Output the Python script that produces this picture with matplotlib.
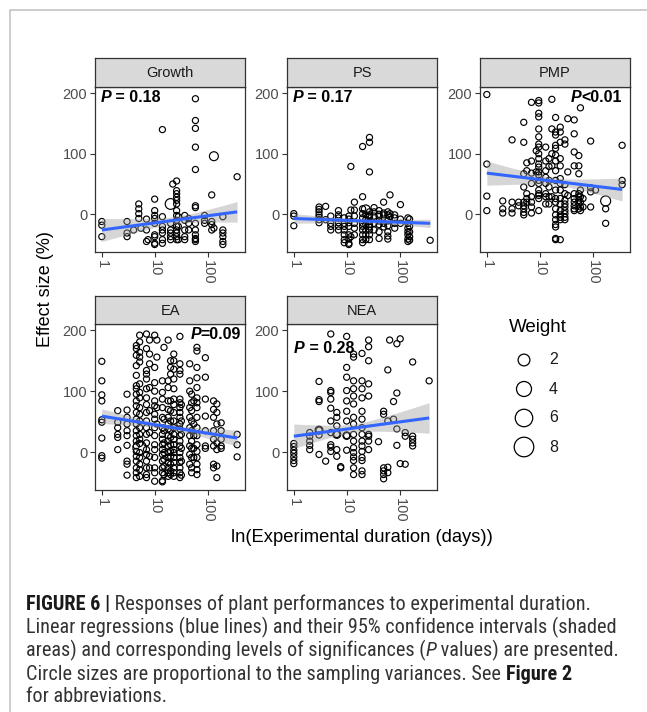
import matplotlib
matplotlib.use('Agg')
import matplotlib.pyplot as plt
import numpy as np
from matplotlib import font_manager as fm
from matplotlib.font_manager import FontProperties
from matplotlib.transforms import offset_copy

plt.rcParams['font.family'] = ['Liberation Sans', 'DejaVu Sans']

# ---------------- data (days, [effect sizes]) ----------------
growth_stacks = [
    (1, [-12, -18, -37]), (3, [-12, -31, -37]), (4, [-26]), (5, [17, 9, 1, -7]),
    (5.5, [-23]), (7, [-8, -26, -45]), (7.5, [-42]),
    (10, [25, 6, -2, -7, -15, -34, -37, -48, -50]),
    (14, [140, -4, -20, -26, -31, -42, -48]), (20, [-15, -26, -31, -37, -42]),
    (22, [50]), (26, [55, 39, 34, 28, 23, 17, 6, -2, -10, -20, -26, -31, -37, -42]),
    (28, [-4, -20, -42]), (37, [-2, -10, -26, -37, -42]), (44, [-7, -15, -26]),
    (59, [191, 155, 142, 111, 74, 14, 11, -15, -26, -34, -40, -42, -45]),
    (88, [-2, -10, -15]), (120, [32, -12, -17, -26]), (132, [-23]),
    (195, [-4, -26, -31, -37, -45, -50]), (363, [62]),
]
growth_large = [(20, 17, 1.5), (132, 96, 0.8)]

ps_stacks = [
    (1, [1, -3, -19]), (3, [12, 8, 4, -1, -5, -9, -14]), (4, [13, -9]),
    (5, [-3, -15, -20, -26]), (7, [6, -1, -6, -14, -20, -26]),
    (9, [-6, -15, -20, -26, -34, -42, -47]), (11, [-3, -8, -14, -20, -34, -41, -48, -50]),
    (12, [79, 7, -37]), (14, [20, 7, -3, -15, -23, -34]),
    (20, [112, 29, 9, 1, -6, -15, -20, -26, -34, -42, -47]),
    (23, [-1, -9, -17, -26, -34, -42]),
    (27, [127, 119, 70, 4, -1, -4, -12, -17, -21, -26, -34, -42]),
    (33, [11, 4, -3, -15, -26]), (41, [6, 0, -3, -11, -17, -29, -40]),
    (50, [20, 2, -1, -15, -21]), (60, [4, -1, -11, -19, -29, -36, -41]),
    (66, [32, 1, -4]), (81, [-1, -6, -15, -23]), (104, [16, -8, -15]),
    (144, [-6, -15, -23, -29, -34, -41, -45]), (155, [-8, -20, -29, -37, -43]),
    (380, [-43]),
]
ps_large = [(23, 8, 0.8)]

pmp_stacks = [
    (1, [198, 83, 30, 6]), (2, [22, 9, 2]), (3, [123, 20, 9, 2]), (4, [20, 14]),
    (5, [152, 119, 67, 45, 20, 14, 9, 3, -1]), (5.7, [85, 72, 34, 26, 20]),
    (7, [185, 88, 68, 51, 29, 20, 12, 2]), (8.6, [105, 70]),
    (9.6, [188, 184, 167, 161, 141, 128, 116, 111, 100, 92, 83, 78, 70, 65, 56, 51, 40, 34, 31, 26, 6]),
    (13, [111, 88, 72, 61, 51, 34, 29, 17]), (15, [92, 79, 56, 45, 29, 17]),
    (17, [190, 141, 100, 80, 29]),
    (20, [160, 136, 131, 114, 109, 98, 88, 72, 56, 40, 26, 20, 9, -1, -9, -17, -21, -40, -42]),
    (24.5, [144, 136, 119, 92, 80, 59, 51, 40, 26, 17, 6, -1, -5, -9, -42]),
    (30, [123, 116, 49, 34, 23, 17, 12, 6, 1, -5, -9]), (34, [158, 70, 31]),
    (45, [156, 133, 103, 80, 34, 26, 20, 14, 9, 6]), (55, [97, 80, 67, 34, 29, 23, 17, 9]),
    (59, [176, 40, 29, 20, 12, 6]), (66, [26, 12]), (92, [121, 44, 37, 12]),
    (114, [40]), (177, [9, -15]), (363, [114, 56, 49]),
]
pmp_large = [(177, 22, 1.2)]

ea_stacks = [
    (1, [149, 117, 94, 84, 53, 49, 23, -6, -10]), (2, [68, 49, 40, 29, 24, 4]),
    (3, [95, 69, 57, 46, 35, 27, 11, -15, -20, -38]),
    (4.5, [175, 170, 159, 142, 126, 109, 104, 95, 84, 76, 65, 54, 46, 35, 27, 18, 10, 1, -7, -15, -26, -34, -42]),
    (5.2, [192, 181, 164, 156, 148, 112, 98, 89, 73, 62, 51, 40, 29, 21, 14, -1, -9, -20, -29, -40]),
    (7, [194, 170, 134, 128, 120, 104, 89, 78, 65, 51, 40, 29, 15, 4, -4, -15, -26, -37, -42]),
    (8, [184, 161, 145, 106, 68, 32, -7, -26]),
    (10, [192, 139, 114, 100, 84, 76, 62, 54, 40, 27, 12, 4, -9, -26, -34, -48]),
    (11, [184, 156, 73, 46]),
    (14, [117, 98, 87, 73, 57, 40, 29, 21, 12, 4, -4, -15, -26, -34, -47, -49]),
    (15, [172, 54, 35, 15, -1, -12, -23, -37]),
    (18, [184, 117, 106, 84, 70, 57, 46, 38, 27, 18, 10, -1, -9, -17, -26, -34, -40]),
    (20, [150, 139, 128, 84, 68, 51, 35, 24, 12, 1, -7, -20, -31, -37]),
    (23, [161, 150, 136, 120, 104, 87, 78, 65, 51, 40, 29, 21, 12, 4, -1, -9, -17, -26, -34, -40]),
    (30, [190, 145, 134, 128, 87, 81, 73, 65, 57, 46, 38, 27, 18, 10, -1, -9, -17, -26, -34, -42]),
    (32, [78, 51, 29, 6, -15, -38]), (46, [145, 117, 100, 73, 57, 40, 27, 10, -4, -20]),
    (50, [95, 81, 68, 51, 35, 18, 6, -9, -26, -34]), (55, [84, 46, 27, 6, -9]),
    (63, [172, 166, 139, 122, 106, 89, 81, 73, 57, 40, 27, 12, 1, -9, -20, -29, -37]),
    (91, [155, 123, 87, 59, 35, 10, 6]), (130, [84, 70, 57, 35, 21, 10, -20, -26]),
    (150, [79, 65, 46, 15, 4, -23, -42]), (181, [48, 35, 21, 10, 6]), (363, [29, 12, -8]),
]
ea_large = [(5.2, 7, 3.0)]

nea_stacks = [
    (1, [14, 9, 3, -2, -8, -14, -19]), (2, [32, 26, 18, 11, 4]),
    (3, [116, 86, 83, 36, 28, -4]), (4, [-15]),
    (5, [194, 101, 98, 87, 72, 51, 32, 12, 8, 1]), (6.5, [65, 57, 43, 29, 4, -7]),
    (7.7, [-24, -26]), (10, [190, 139, 123, 101, 84, 67, 51, 27, 3]),
    (13.5, [161, 156, 117, 104, 92, 79, 57, 46, 29, 18, 7, -1, -8, -14, -26, -37]),
    (19.5, [162, 117, 104, 89, 67, 54, 40, 29, 18, 10, 1, -9, -14, -31, -37]),
    (26, [184, 173, 150, 112, 92, 29, 26, 18, 4]), (40, [17]),
    (50, [67, 62, -26, -31, -37, -44]), (60, [135, 51, -25, -34]), (65, [184]),
    (77, [83, 54]), (89, [178, 97, 38, 11]), (103, [186, -19]),
    (128, [32, 26, -20]), (177, [148, 26, 21, 15, 10]), (363, [117]),
]
nea_large = [(3, 36, 0.5), (6.5, 29, 0.5), (10, 27, 0.4)]

panel_names = ['Growth', 'PS', 'PMP', 'EA', 'NEA']
panel_stacks = [growth_stacks, ps_stacks, pmp_stacks, ea_stacks, nea_stacks]
panel_large = [growth_large, ps_large, pmp_large, ea_large, nea_large]

# fitted line: value at first day, value at last day; CI half-widths (left, min, right)
fit_left = [-26, -7, 68, 59, 26]
fit_right = [4, -15, 41, 23, 56]
ci_left = [19, 8, 20, 12, 20]
ci_min = [6, 3, 6, 4, 7]
ci_right = [17, 7, 19, 13, 25]

p_prefix = ['P', 'P', 'P', 'P', 'P']
p_rest = [' = 0.18', ' = 0.17', '<0.01', '=0.09', ' = 0.28']

legend_weights = [2, 4, 6, 8]
default_weight = 0.15

x_ticks = [1, 10, 100]
x_ticklabels = ['1', '10', '100']
y_ticks = [0, 100, 200]


# ---------------- caption font: a condensed sans if one is installed ----------------
def pick_font(weight, style):
    cond = ('condensed', 'semi-condensed', 'extra-condensed', 'ultra-condensed')
    pref = ['Liberation Sans Narrow', 'Arial Narrow', 'Nimbus Sans Narrow', 'Roboto Condensed',
            'Open Sans Condensed', 'Noto Sans Condensed', 'Noto Sans SemiCondensed',
            'DejaVu Sans Condensed', 'Noto Sans', 'DejaVu Sans', 'Open Sans', 'Roboto']
    want_w = 700 if weight == 'bold' else 400

    def wnum(f):
        w = f.weight
        if isinstance(w, str):
            return 700 if 'bold' in w else 400
        return w

    for fam in pref:
        hits = []
        for f in fm.fontManager.ttflist:
            if f.name != fam:
                continue
            narrow_name = ('Narrow' in fam) or ('Condensed' in fam)
            if not (narrow_name or f.stretch in cond):
                continue
            if narrow_name and f.stretch not in cond + ('normal',):
                continue
            st_ok = (f.style != 'normal') == (style != 'normal')
            if st_ok:
                hits.append((abs(wnum(f) - want_w), f.fname))
        if hits:
            hits.sort()
            return FontProperties(fname=hits[0][1])
    return FontProperties(family='Liberation Sans', weight=weight, style=style)


CAP_FONTS = {(w, s): pick_font(w, s) for w in ('normal', 'bold') for s in ('normal', 'italic')}


def cap_fp(size, weight='normal', style='normal'):
    p = CAP_FONTS[(weight, style)].copy()
    p.set_size(size)
    return p


# ---------------- layout ----------------
W, H = 647, 712
fig = plt.figure(figsize=(W / 100, H / 100), dpi=100)
renderer = fig.canvas.get_renderer()

cols = [(95, 245), (287, 437), (480, 630)]
rows = [(87, 252), (324, 490)]
strips = [(58, 87), (296, 324)]
positions = [(0, 0), (0, 1), (0, 2), (1, 0), (1, 1)]
p_pos = [(0.035, 0.937, 'left'), (0.035, 0.937, 'left'), (0.947, 0.937, 'right'),
         (0.975, 0.934, 'right'), (0.047, 0.855, 'left')]


def rect(x0, x1, y0, y1):
    return [x0 / W, 1 - y1 / H, (x1 - x0) / W, (y1 - y0) / H]


def size_of(w):
    d_px = 4 + 5.5 * np.sqrt(w)
    return (d_px * 0.72) ** 2


def expand(stacks):
    xs, ys = [], []
    for d, vals in stacks:
        for v in vals:
            xs.append(d)
            ys.append(v)
    return np.array(xs, float), np.array(ys, float)


all_x = np.concatenate([expand(s)[0] for s in panel_stacks])
all_y = np.concatenate([expand(s)[1] for s in panel_stacks])
lx0, lx1 = np.log10(all_x.min()), np.log10(all_x.max())
rx = lx1 - lx0
xlim = (10 ** (lx0 - 0.05 * rx), 10 ** (lx1 + 0.05 * rx))
ry = all_y.max() - all_y.min()
ylim = (all_y.min() - 0.05 * ry, all_y.max() + 0.05 * ry)

DARK = '#333333'

for i, name in enumerate(panel_names):
    r, c = positions[i]
    ax = fig.add_axes(rect(cols[c][0], cols[c][1], rows[r][0], rows[r][1]))
    sax = fig.add_axes(rect(cols[c][0], cols[c][1], strips[r][0], strips[r][1]))
    sax.set_facecolor('#D9D9D9')
    sax.set_xticks([]); sax.set_yticks([])
    for sp in sax.spines.values():
        sp.set_color(DARK); sp.set_linewidth(0.9)
    sax.text(0.5, 0.47, name, transform=sax.transAxes, ha='center', va='center',
             fontsize=10.5, color='#1A1A1A')

    xs, ys = expand(panel_stacks[i])
    ax.scatter(xs, ys, s=size_of(default_weight), facecolors='none', edgecolors='black',
               linewidths=0.85, zorder=3)
    if panel_large[i]:
        lg = np.array(panel_large[i], float)
        ax.scatter(lg[:, 0], lg[:, 1], s=size_of(lg[:, 2]), facecolors='none',
                   edgecolors='black', linewidths=0.85, zorder=3)

    # regression line + CI band (in log10 space)
    t0, t1 = np.log10(xs.min()), np.log10(xs.max())
    t = np.linspace(t0, t1, 100)
    slope = (fit_right[i] - fit_left[i]) / (t1 - t0)
    yfit = fit_left[i] + slope * (t - t0)
    A = ci_left[i] ** 2 - ci_min[i] ** 2
    B = ci_right[i] ** 2 - ci_min[i] ** 2
    T = t1 - t0
    sk = (np.sqrt(A) + np.sqrt(B)) / T
    cc = t0 + np.sqrt(A) / sk
    hw = np.sqrt(ci_min[i] ** 2 + sk ** 2 * (t - cc) ** 2)
    ax.fill_between(10 ** t, yfit - hw, yfit + hw, color='#999999', alpha=0.4, lw=0, zorder=4)
    ax.plot(10 ** t, yfit, color='#3366FF', lw=2.2, zorder=5, solid_capstyle='butt')

    ax.set_xscale('log')
    ax.set_xlim(xlim)
    ax.set_ylim(ylim)
    ax.set_xticks(x_ticks)
    ax.set_xticklabels(x_ticklabels, rotation=-90, va='top', ha='center')
    ax.minorticks_off()
    ax.set_yticks(y_ticks)
    ax.tick_params(direction='out', length=3.5, width=0.8, color=DARK,
                   labelcolor='#4D4D4D', labelsize=10.5, pad=2)
    for sp in ax.spines.values():
        sp.set_color(DARK); sp.set_linewidth(0.9)

    # P value text
    px, py, al = p_pos[i]
    kw = dict(fontsize=11.5, weight='bold', va='center', color='black', zorder=6)
    if al == 'left':
        t1_ = ax.text(px, py, p_prefix[i], transform=ax.transAxes, ha='left', style='italic', **kw)
        wpx = t1_.get_window_extent(renderer).width
        ax.text(px, py, p_rest[i], ha='left',
                transform=offset_copy(ax.transAxes, fig=fig, x=wpx, units='dots'), **kw)
    else:
        t2_ = ax.text(px, py, p_rest[i], transform=ax.transAxes, ha='right', **kw)
        wpx = t2_.get_window_extent(renderer).width
        ax.text(px, py, p_prefix[i], ha='right', style='italic',
                transform=offset_copy(ax.transAxes, fig=fig, x=-wpx, units='dots'), **kw)

# ---------------- overlay in pixel coordinates ----------------
ov = fig.add_axes([0, 0, 1, 1], zorder=10)
ov.set_xlim(0, W); ov.set_ylim(H, 0)
ov.axis('off')
ov.patch.set_alpha(0)

ov.plot([10, 10, W + 5], [H + 5, 10, 10], color='#C8C8C8', lw=1.3, solid_capstyle='butt')

ov.text(46, 289, 'Effect size (%)', rotation=90, ha='center', va='center',
        fontsize=13, color='black')
ov.text(362, 537, 'ln(Experimental duration (days))', ha='center', va='center',
        fontsize=13.2, color='black')

ov.text(509, 327, 'Weight', ha='left', va='center', fontsize=13.5, color='black')
leg_y = [360, 389, 418, 447]
for wv, yy in zip(legend_weights, leg_y):
    ov.scatter([524], [yy], s=size_of(wv), facecolors='none', edgecolors='black', linewidths=0.9)
    ov.text(549, yy, str(wv), ha='left', va='center', fontsize=11.5, color='#1A1A1A')

# caption
cap_lines = [
    [('FIGURE 6 |', 'bold', 'normal', '#1A1A1A'),
     (' Responses of plant performances to experimental duration.', 'normal', 'normal', '#333333')],
    [('Linear regressions (blue lines) and their 95% confidence intervals (shaded', 'normal', 'normal', '#333333')],
    [('areas) and corresponding levels of significances (', 'normal', 'normal', '#333333'),
     ('P', 'normal', 'italic', '#333333'),
     (' values) are presented.', 'normal', 'normal', '#333333')],
    [('Circle sizes are proportional to the sampling variances. See ', 'normal', 'normal', '#333333'),
     ('Figure 2', 'bold', 'normal', '#1A1A1A')],
    [('for abbreviations.', 'normal', 'normal', '#333333')],
]
cap_x0, cap_x1 = 26, 612
probe = ov.text(0, 0, cap_lines[1][0][0], fontproperties=cap_fp(10))
pw = probe.get_window_extent(renderer).width
probe.remove()
cap_fs = 10 * (cap_x1 - cap_x0) / pw
cap_y = [604, 627, 650, 674, 697]
for runs, yy in zip(cap_lines, cap_y):
    x = cap_x0
    for txt, wt, st, col in runs:
        tt = ov.text(x, yy, txt, ha='left', va='center', fontproperties=cap_fp(cap_fs, wt, st),
                     color=col)
        x += tt.get_window_extent(renderer).width

fig.savefig('out.png', dpi=100)
